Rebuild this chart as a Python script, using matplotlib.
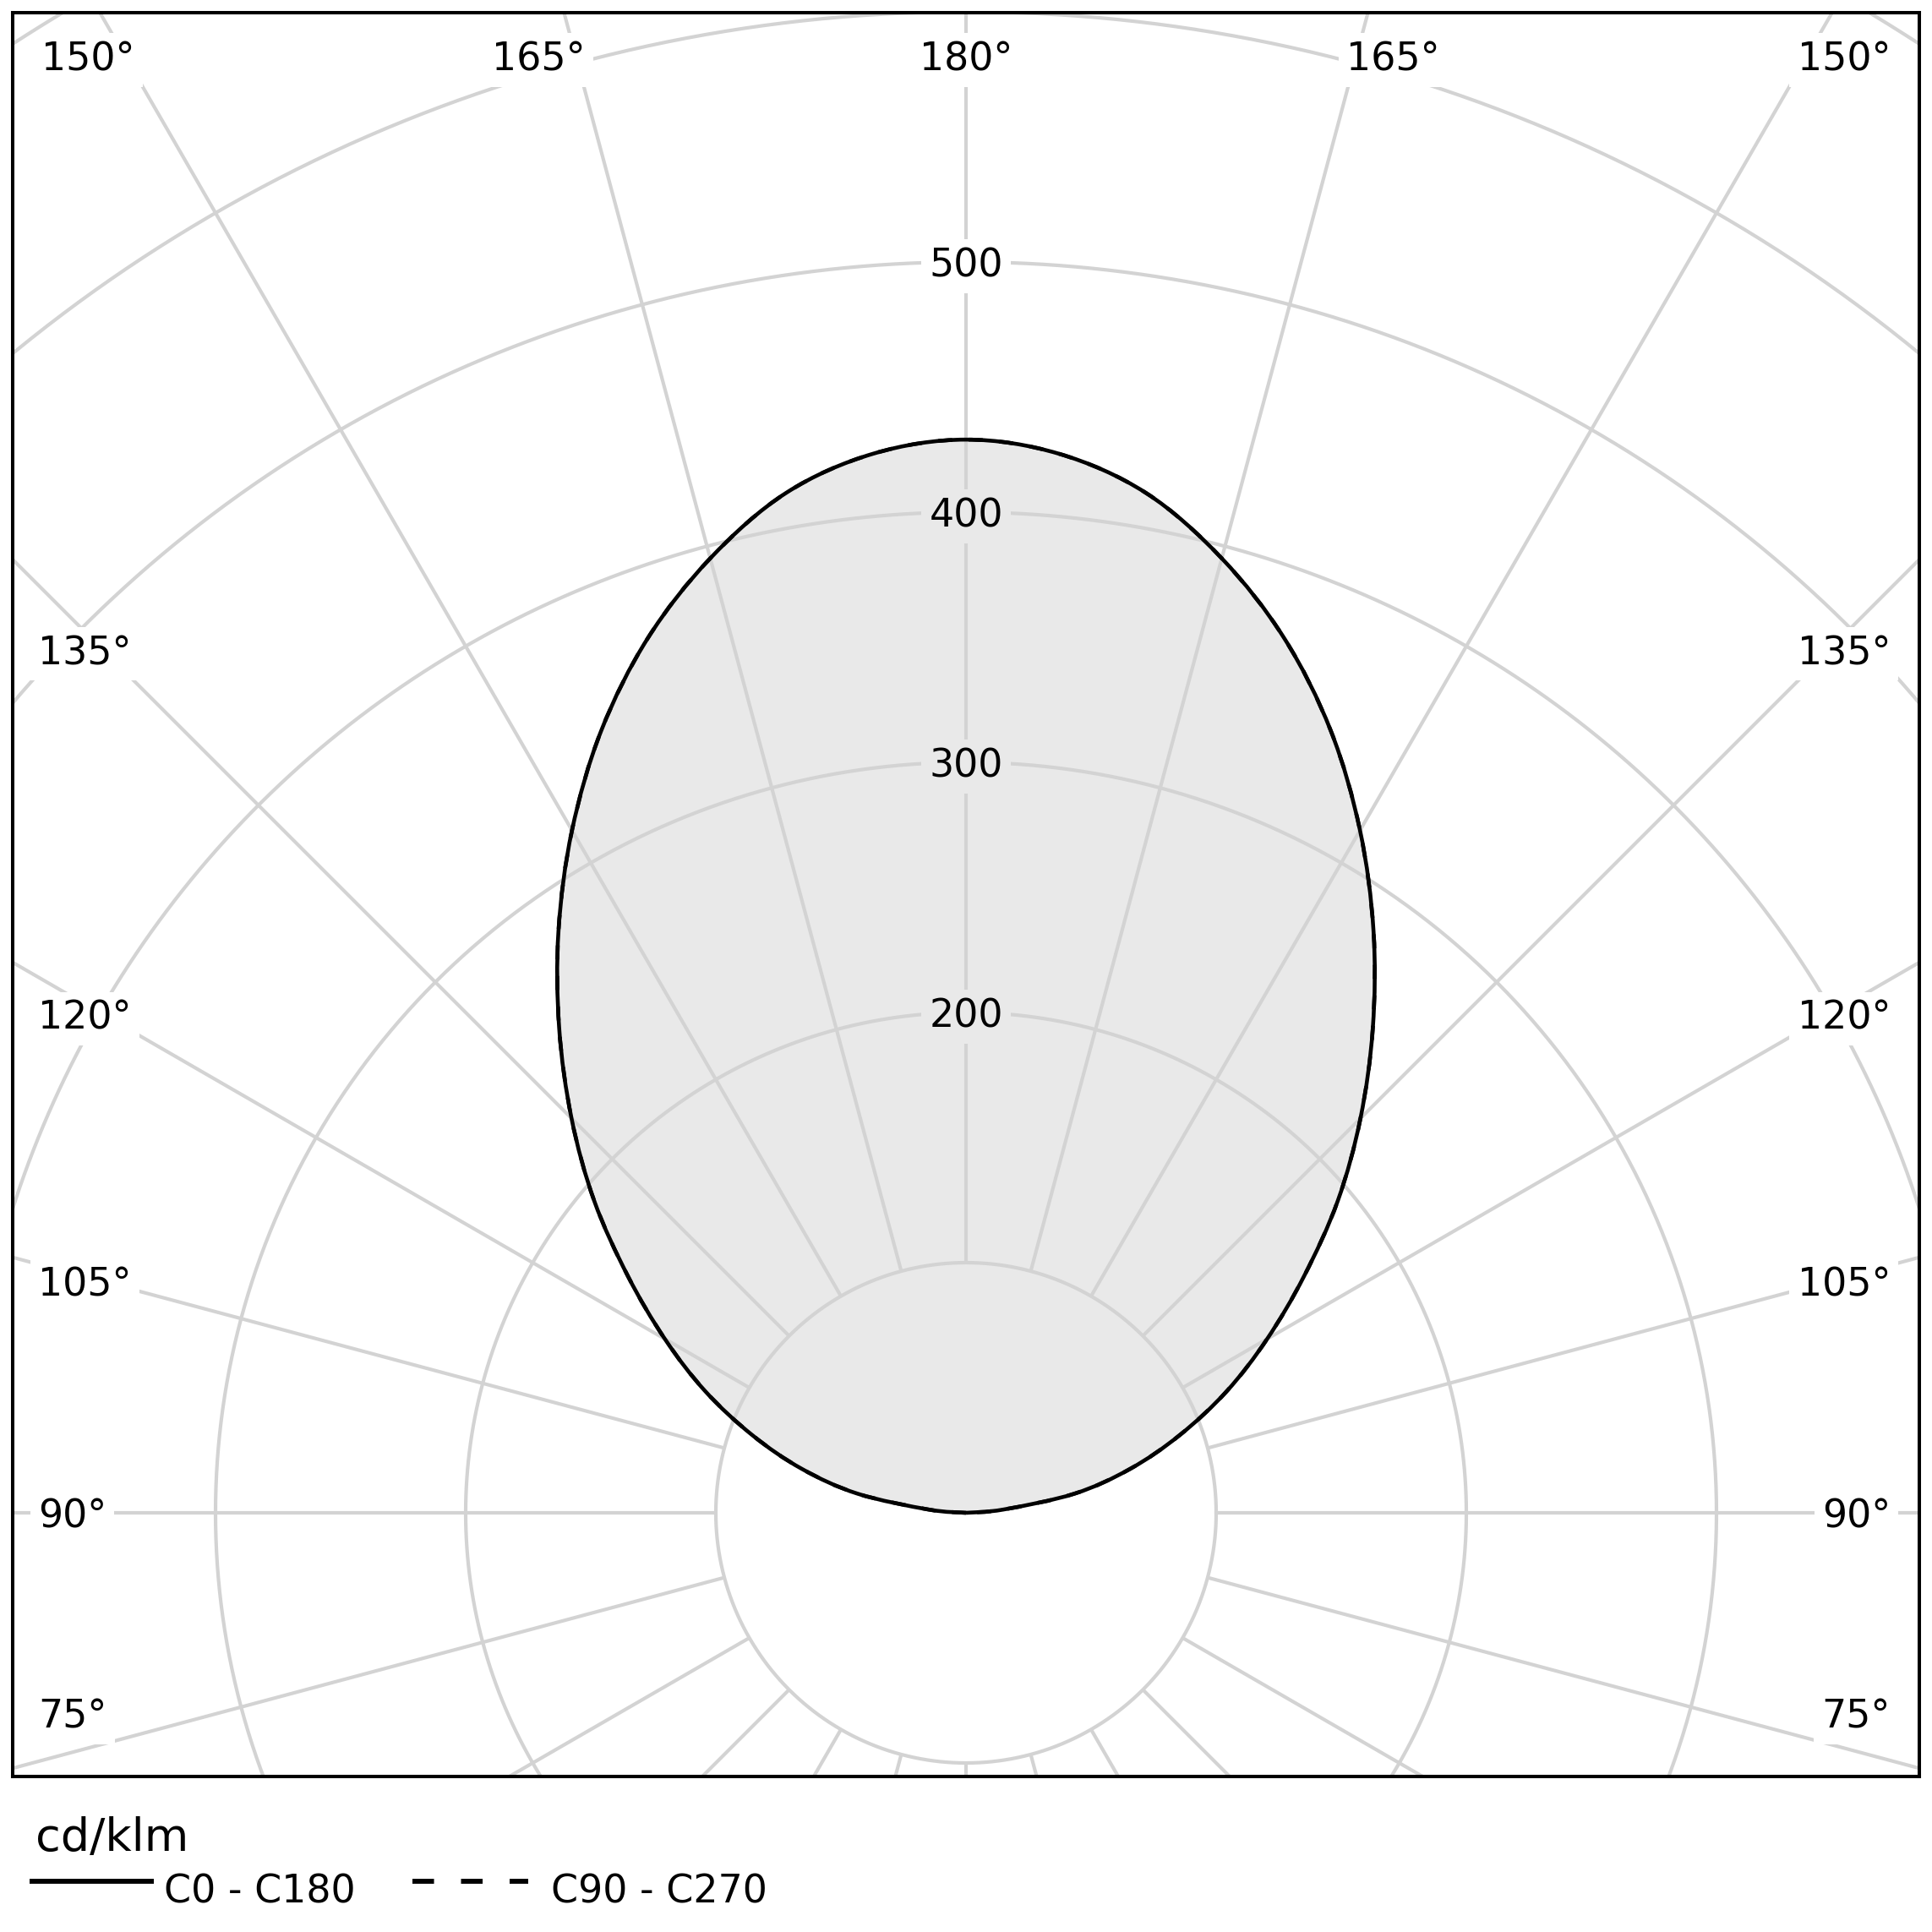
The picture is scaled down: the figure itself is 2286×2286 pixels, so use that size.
import numpy as np
import matplotlib
matplotlib.use("Agg")
import matplotlib.pyplot as plt
from matplotlib.lines import Line2D
from matplotlib.path import Path
from matplotlib.patches import PathPatch

# ---------------- data ----------------
gamma_deg = [90, 95, 100, 105, 110, 115, 120, 125, 130, 135,
             140, 145, 150, 155, 160, 165, 170, 175, 180]
c0_c180 = [0, 15, 44, 68, 91, 115, 139, 165, 194, 223,
           253, 284, 315, 345, 372, 395, 414, 425, 429]
c90_c270 = [0, 15, 44, 68, 91, 115, 139, 165, 194, 223,
            253, 284, 315, 345, 372, 395, 414, 425, 429]
ring_values = [100, 200, 300, 400, 500, 600, 700]
ring_label_values = [200, 300, 400, 500]
spoke_angles = list(range(0, 360, 15))
top_label_angles = [150, 165, 180]
side_label_angles = [75, 90, 105, 120, 135]
series_names = ["C0 - C180", "C90 - C270"]
unit_label = "cd/klm"

# ---------------- style ----------------
plt.rcParams['font.family'] = ['DejaVu Sans']
plt.rcParams['lines.scale_dashes'] = False
GRID = '#D3D3D3'
FILL = '#E9E9E9'
GRID_LW = 3.0
CURVE_LW = 3.3
LABEL_FS = 33

W = H = 2286
DPI = 100
fig = plt.figure(figsize=(W / DPI, H / DPI), dpi=DPI)

px_per_cd = 2.96
cx, cy = 1143, 1790          # pole position in pixels
L, R, T, B = 15, 2271, 15, 2102  # frame in pixels
ax = fig.add_axes([L / W, 1 - B / H, (R - L) / W, (B - T) / H])
ax.set_xlim((L - cx) / px_per_cd, (R - cx) / px_per_cd)
ax.set_ylim((cy - B) / px_per_cd, (cy - T) / px_per_cd)
ax.set_aspect('auto')
ax.set_xticks([])
ax.set_yticks([])
for s in ax.spines.values():
    s.set_linewidth(2.9)
    s.set_color('black')
    s.set_zorder(10)

# ---------------- grid ----------------
t = np.linspace(0, 2 * np.pi, 1441)
for r in ring_values:
    ax.plot(r * np.cos(t), r * np.sin(t), color=GRID, lw=GRID_LW, zorder=1)
r_in = ring_values[0]
r_out = 1000
for a in spoke_angles:
    ar = np.radians(a)
    dx, dy = np.sin(ar), -np.cos(ar)
    ax.plot([r_in * dx, r_out * dx], [r_in * dy, r_out * dy],
            color=GRID, lw=GRID_LW, zorder=1, solid_capstyle='butt')

# ---------------- curve (smooth Bezier path through the measured points) ----
g = np.radians(np.array(gamma_deg))


def outline_points(vals):
    I = np.array(vals, dtype=float)
    xl, yl = -I * np.sin(g), -I * np.cos(g)          # C180 side (left)
    xr, yr = I * np.sin(g), -I * np.cos(g)           # C0 side (right)
    xs = np.concatenate([xl, xr[::-1][1:]])
    ys = np.concatenate([yl, yr[::-1][1:]])
    return np.column_stack([xs, ys])


def smooth_path(P, closed=False):
    n = len(P)
    verts = [P[0]]
    codes = [Path.MOVETO]
    for i in range(n - 1):
        p0 = P[i - 1] if i > 0 else P[i]
        p1 = P[i]
        p2 = P[i + 1]
        p3 = P[i + 2] if i + 2 < n else P[i + 1]
        c1 = p1 + (p2 - p0) / 6.0
        c2 = p2 - (p3 - p1) / 6.0
        verts += [c1, c2, p2]
        codes += [Path.CURVE4] * 3
    if closed:
        verts.append(P[0])
        codes.append(Path.CLOSEPOLY)
    return Path(np.array(verts), codes)


P_main = outline_points(c0_c180)
P_dash = outline_points(c90_c270)
ax.add_patch(PathPatch(smooth_path(P_main, closed=True), fc=FILL, ec='none',
                       lw=0, zorder=0.5))
ax.add_patch(PathPatch(smooth_path(P_dash), fc='none', ec='black',
                       lw=CURVE_LW, ls=(0, (12, 14)), zorder=3.9))
ax.add_patch(PathPatch(smooth_path(P_main), fc='none', ec='black',
                       lw=CURVE_LW, zorder=4, joinstyle='round'))

# ---------------- ring labels ----------------
i_top = c0_c180[gamma_deg.index(180)]
for rv in ring_label_values:
    fc = FILL if rv < i_top else 'white'
    ax.text(0, rv, str(rv), ha='center', va='center_baseline', fontsize=LABEL_FS,
            zorder=3, bbox=dict(boxstyle='square,pad=0.2', fc=fc, ec='none'))

# ---------------- angle labels ----------------
lab_kw = dict(fontsize=LABEL_FS, zorder=3,
              bbox=dict(boxstyle='square,pad=0.2', fc='white', ec='none'))
y_top = (cy - 66) / px_per_cd
for a in top_label_angles:
    if a == 180:
        ax.text(0, y_top, f"{a}°", ha='center', va='center_baseline', **lab_kw)
        continue
    xs_sp = y_top * np.tan(np.radians(180 - a))
    ax.text(-xs_sp + 4, y_top, f"{a}°", ha='right', va='center_baseline', **lab_kw)
    ax.text(xs_sp - 4, y_top, f"{a}°", ha='left', va='center_baseline', **lab_kw)

x_left = (45 - cx) / px_per_cd
x_right = (2237 - cx) / px_per_cd
x_ref = 345.0
y_min = (cy - 2027) / px_per_cd
for a in side_label_angles:
    y = -x_ref / np.tan(np.radians(a)) if a != 90 else 0.0
    y = max(y, y_min)
    ax.text(x_left, y, f"{a}°", ha='left', va='center_baseline', **lab_kw)
    ax.text(x_right, y, f"{a}°", ha='right', va='center_baseline', **lab_kw)

# ---------------- legend ----------------
def fx(p):
    return p / W


def fy(p):
    return 1 - p / H


fig.text(fx(42), fy(2190), unit_label, ha='left', va='baseline', fontsize=39)
legend_lines = [dict(x0=35, x1=182, tx=194, ls='solid'),
                dict(x0=488, x1=625, tx=652, ls='dashed')]
for name, spec in zip(series_names, legend_lines):
    if spec['ls'] == 'solid':
        ln = Line2D([fx(spec['x0']), fx(spec['x1'])], [fy(2226), fy(2226)],
                    transform=fig.transFigure, color='black', lw=4.2,
                    solid_capstyle='butt')
    else:
        ln = Line2D([fx(spec['x0']), fx(spec['x1'])], [fy(2226), fy(2226)],
                    transform=fig.transFigure, color='black', lw=4.2,
                    dashes=(18.4, 23), dash_capstyle='butt')
    fig.add_artist(ln)
    fig.text(fx(spec['tx']), fy(2252), name, ha='left', va='baseline',
             fontsize=33)

fig.savefig('out.png', dpi=DPI, facecolor='white')
